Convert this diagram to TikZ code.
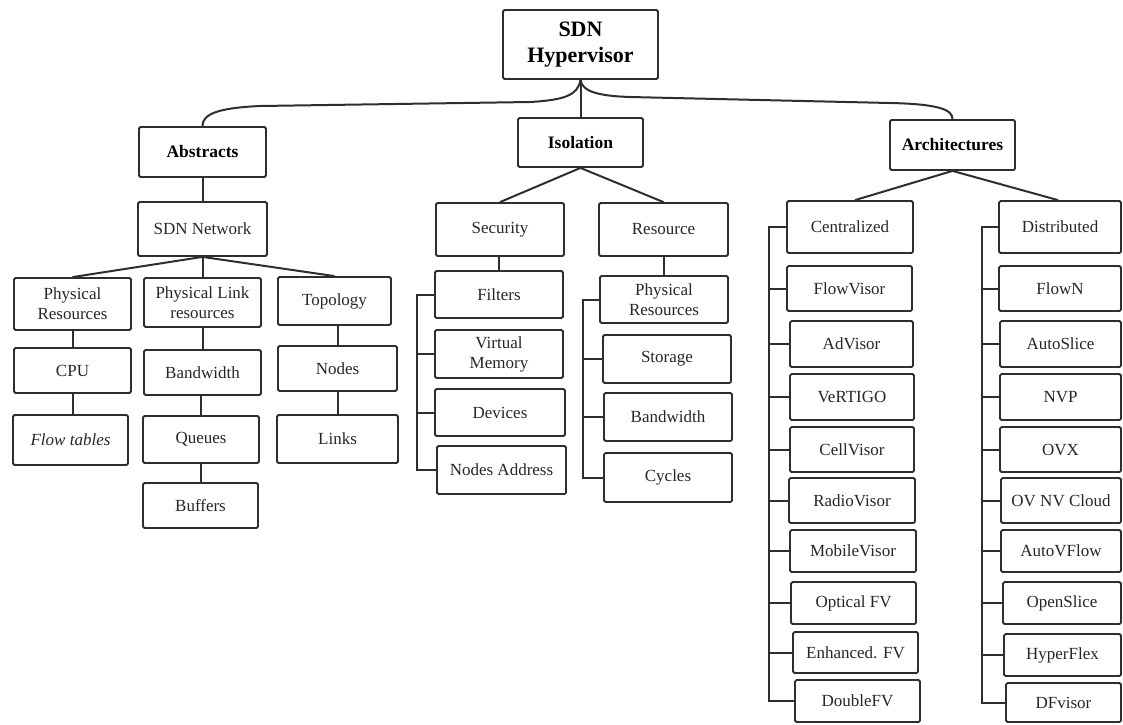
\documentclass[tikz,border=0pt]{standalone}
\usepackage{fontspec}
\setmainfont{Liberation Serif}
\usetikzlibrary{calc}

\tikzset{
  box/.style={draw=black!82, line width=1.8pt, rounded corners=1.5pt, align=center,
    inner sep=0pt, text=black!85, font=\fontsize{17}{20}\selectfont},
  headbox/.style={box, text=black, font=\fontsize{17.5}{20}\selectfont\bfseries},
  rootbox/.style={box, text=black, font=\fontsize{22}{26}\selectfont\bfseries},
  wh/.style 2 args={minimum width=#1pt, minimum height=#2pt},
  conn/.style={draw=black!82, line width=2pt}
}

\begin{document}
\begin{tikzpicture}[x=1pt, y=-1pt]
\useasboundingbox (0,0) rectangle (1123,724);

% ---- root and first level ----
\node[rootbox, wh={155}{69}] (root) at (580.5,44.5) {SDN\\Hypervisor};
\node[headbox, wh={127}{50}] (abs)  at (202.5,152) {Abstracts};
\node[headbox, wh={125}{49}] (iso)  at (580.5,142.5) {Isolation};
\node[headbox, wh={125}{50}] (arch) at (952.5,145) {Architectures};

\draw[conn] (root.south) .. controls (578,95) and (565,100) .. (530,102)
  -- (260,106) .. controls (215,108) and (202.5,115) .. (abs.north);
\draw[conn] (root.south) -- (iso.north);
\draw[conn] (root.south) .. controls (582,92) and (600,96) .. (630,97)
  -- (890,103) .. controls (940,104) and (952.5,110) .. (arch.north);

% ---- Abstracts branch ----
\node[box, wh={129}{54}] (sdnnet) at (202.5,229) {SDN Network};
\node[box, wh={117}{52}] (pr)     at (72.5,304)  {Physical\\Resources};
\node[box, wh={117}{49}] (plr)    at (202.5,302.5) {Physical Link\\resources};
\node[box, wh={113}{48}] (topo)   at (334.5,301) {Topology};
\node[box, wh={117}{45}] (cpu)    at (72.5,370.5) {CPU};
\node[box, wh={117}{45}] (bw)     at (202.5,372.5) {Bandwidth};
\node[box, wh={119}{45}] (nodes)  at (337.5,368.5) {Nodes};
\node[box, wh={115}{50}] (flow)   at (70.5,440) {\itshape Flow tables};
\node[box, wh={116}{47}] (queues) at (201,439.5) {Queues};
\node[box, wh={121}{48}] (links)  at (337.5,439) {Links};
\node[box, wh={115}{45}] (buffers) at (200.5,505.5) {Buffers};

\draw[conn] (abs.south) -- (sdnnet.north);
\draw[conn] (sdnnet.south) -- (pr.north);
\draw[conn] (sdnnet.south) -- (plr.north);
\draw[conn] (sdnnet.south) -- (topo.north);
\draw[conn] (cpu.north) -- (cpu.north |- pr.south);
\draw[conn] (flow.north -| cpu.south) -- (cpu.south);
\draw[conn] (bw.north) -- (bw.north |- plr.south);
\draw[conn] (queues.north) -- (queues.north |- bw.south);
\draw[conn] (buffers.north) -- (buffers.north |- queues.south);
\draw[conn] (nodes.north) -- (nodes.north |- topo.south);
\draw[conn] (links.north) -- (links.north |- nodes.south);

% ---- Isolation branch ----
\node[box, wh={128}{53}] (security) at (500,229.5) {Security};
\node[box, wh={129}{53}] (resource) at (663.5,229.5) {Resource};
\node[box, wh={128}{47}] (filters)  at (499,294.5) {Filters};
\node[box, wh={128}{48}] (vmem)     at (499,354) {Virtual\\Memory};
\node[box, wh={130}{47}] (devices)  at (500,412.5) {Devices};
\node[box, wh={129}{48}] (naddr)    at (501.5,470) {Nodes Address};
\node[box, wh={128}{47}] (pr2)      at (664,299.5) {Physical\\Resources};
\node[box, wh={128}{48}] (storage)  at (667,359) {Storage};
\node[box, wh={128}{48}] (bw2)      at (668,417) {Bandwidth};
\node[box, wh={128}{49}] (cycles)   at (668,477.5) {Cycles};

\draw[conn] (iso.south) -- (security.north);
\draw[conn] (iso.south) -- (resource.north);
\draw[conn] (security.south -| filters.north) -- (filters.north);
\draw[conn] (resource.south -| pr2.north) -- (pr2.north);

\coordinate (secbar) at (417,0);
\coordinate (resbar) at (583,0);
\draw[conn] (filters.west) -- (filters.west -| secbar) |- (naddr.west);
\foreach \n in {vmem,devices}
  \draw[conn] (\n.west) -- (\n.west -| secbar);
\draw[conn] (pr2.west) -- (pr2.west -| resbar) |- (cycles.west);
\foreach \n in {storage,bw2}
  \draw[conn] (\n.west) -- (\n.west -| resbar);

% ---- Architectures branch ----
\node[box, wh={126}{52}] (cent) at (850,227) {Centralized};
\node[box, wh={122}{52}] (dist) at (1060,227) {Distributed};
\draw[conn] (arch.south) -- ($(cent.north)+(5,0)$);
\draw[conn] (arch.south) -- ($(dist.north)+(-2,0)$);

\node[box, wh={125}{45}] (flowvisor)   at (849.5,288.5) {FlowVisor};
\node[box, wh={123}{46}] (advisor)     at (851.5,344) {AdVisor};
\node[box, wh={124}{46}] (vertigo)     at (852,397) {VeRTIGO};
\node[box, wh={124}{45}] (cellvisor)   at (852,449.5) {CellVisor};
\node[box, wh={126}{45}] (radiovisor)  at (852,500.5) {RadioVisor};
\node[box, wh={126}{42}] (mobilevisor) at (853,551) {MobileVisor};
\node[box, wh={125}{42}] (opticalfv)   at (853.5,603) {Optical FV};
\node[box, wh={125}{41}] (enhancedfv)  at (855.5,652.5) {Enhanced. FV};
\node[box, wh={125}{42}] (doublefv)    at (857.5,701) {DoubleFV};

\node[box, wh={122}{45}] (flown)     at (1060,288.5) {FlowN};
\node[box, wh={121}{46}] (autoslice) at (1060.5,344) {AutoSlice};
\node[box, wh={121}{46}] (nvp)       at (1060.5,397) {NVP};
\node[box, wh={121}{45}] (ovx)       at (1060.5,449.5) {OVX};
\node[box, wh={120}{45}] (ovnv)      at (1061,500.5) {OV NV Cloud};
\node[box, wh={120}{42}] (autovflow) at (1061,551) {AutoVFlow};
\node[box, wh={118}{42}] (openslice) at (1062,603) {OpenSlice};
\node[box, wh={117}{42}] (hyperflex) at (1062.5,655) {HyperFlex};
\node[box, wh={115}{39}] (dfvisor)   at (1063.5,702.5) {DFvisor};

\coordinate (centbar) at (769,0);
\coordinate (distbar) at (982,0);
\draw[conn] (cent.west) -- (cent.west -| centbar) |- (doublefv.west);
\foreach \n in {flowvisor,advisor,vertigo,cellvisor,radiovisor,mobilevisor,opticalfv,enhancedfv}
  \draw[conn] (\n.west) -- (\n.west -| centbar);
\draw[conn] (dist.west) -- (dist.west -| distbar) |- (dfvisor.west);
\foreach \n in {flown,autoslice,nvp,ovx,ovnv,autovflow,openslice,hyperflex}
  \draw[conn] (\n.west) -- (\n.west -| distbar);
\end{tikzpicture}
\end{document}
